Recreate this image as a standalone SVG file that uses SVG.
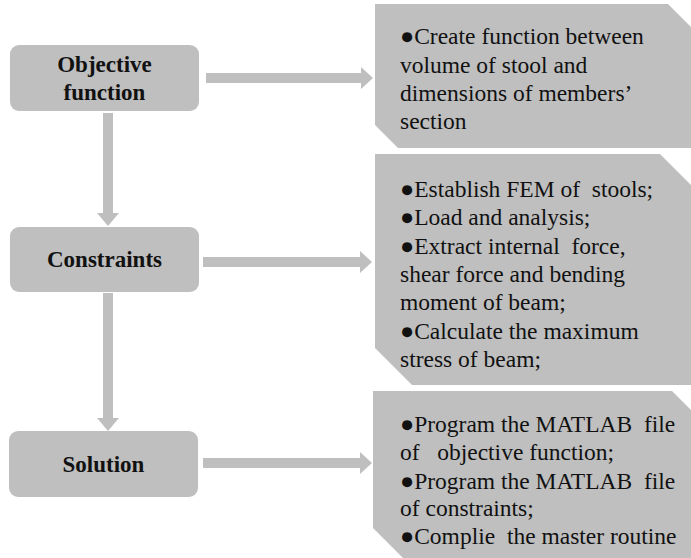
<svg xmlns="http://www.w3.org/2000/svg" width="691" height="558" viewBox="0 0 691 558">
<style>
.node{fill:#bfbfbf;}
.box{fill:#bfbfbf;}
.arr{fill:#bfbfbf;}
.lbl{font-weight:bold;font-size:23px;fill:#111;text-anchor:middle;}
.txt{font-size:23.5px;fill:#111;white-space:pre;}
</style>
<rect width="691" height="558" fill="#fff"/>
<g id="connectors">
<polygon class="arr" points="103,113 113,113 113,213 119,213 108,226 97,213 103,213"/>
<polygon class="arr" points="103,293 113,293 113,418 119,418 108,431 97,418 103,418"/>
<polygon class="arr" points="206,73 361,73 361,67 373,78 361,89 361,83 206,83"/>
<polygon class="arr" points="203,257 360,257 360,251 372,262 360,273 360,267 203,267"/>
<polygon class="arr" points="203,458 360,458 360,452 372,463 360,474 360,468 203,468"/>
</g>
<g font-family="Liberation Serif, Times New Roman, DejaVu Serif, serif">
<g id="node-objective">
<rect class="node" x="10" y="45" width="189" height="66" rx="9"/>
<text class="lbl" x="104.5" y="72">Objective</text>
<text class="lbl" x="104.5" y="100">function</text>
</g>
<g id="node-constraints">
<rect class="node" x="10" y="227" width="189" height="65" rx="9"/>
<text class="lbl" x="104.5" y="267">Constraints</text>
</g>
<g id="node-solution">
<rect class="node" x="9" y="431" width="189" height="66" rx="9"/>
<text class="lbl" x="103.5" y="472">Solution</text>
</g>
<g id="box-objective">
<polygon class="box" points="375,4 668,4 696,32 696,148 398,148 375,125"/>
<text class="txt" x="400" y="44">●Create function between</text>
<text class="txt" x="400" y="73">volume of stool and</text>
<text class="txt" x="400" y="101">dimensions of members’</text>
<text class="txt" x="400" y="129">section</text>
</g>
<g id="box-constraints">
<polygon class="box" points="375,154 660,154 697,191 697,385 412,385 375,348"/>
<text class="txt" x="400" y="197">●Establish FEM of  stools;</text>
<text class="txt" x="400" y="225">●Load and analysis;</text>
<text class="txt" x="400" y="254">●Extract internal  force,</text>
<text class="txt" x="400" y="282">shear force and bending</text>
<text class="txt" x="400" y="310">moment of beam;</text>
<text class="txt" x="400" y="339">●Calculate the maximum</text>
<text class="txt" x="400" y="367">stress of beam;</text>
</g>
<g id="box-solution">
<polygon class="box" points="373,391 672,391 700,419 700,570 415,570 373,528"/>
<text class="txt" x="400" y="432">●Program the MATLAB  file</text>
<text class="txt" x="400" y="460">of   objective function;</text>
<text class="txt" x="400" y="489">●Program the MATLAB  file</text>
<text class="txt" x="400" y="516">of constraints;</text>
<text class="txt" x="400" y="544">●Complie  the master routine</text>
</g>
</g>
</svg>
